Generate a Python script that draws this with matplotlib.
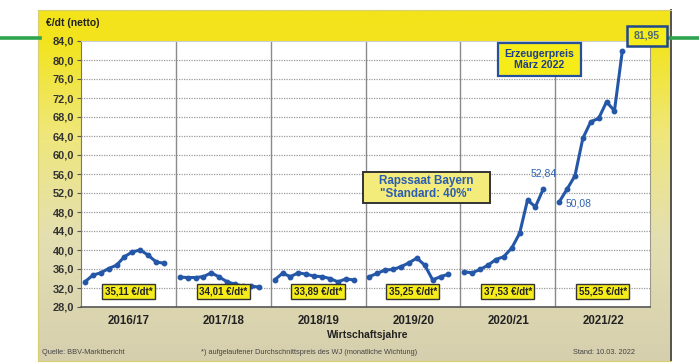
import numpy as np
import matplotlib
matplotlib.use("Agg")
import matplotlib.pyplot as plt
from matplotlib.colors import LinearSegmentedColormap
from matplotlib.patches import Rectangle

plt.rcParams['font.family'] = ['Liberation Sans', 'DejaVu Sans']

# Marketing years and monthly producer prices (EUR/dt, net)
years = ["2016/17", "2017/18", "2018/19", "2019/20", "2020/21", "2021/22"]
p_2016 = [33.3, 34.7, 35.2, 36.1, 36.8, 38.6, 39.6, 40.0, 38.9, 37.5, 37.2]
p_2017 = [34.3, 34.2, 34.2, 34.4, 35.2, 34.3, 33.3, 32.8, 32.4, 32.4, 32.2]
p_2018 = [33.7, 35.1, 34.4, 35.2, 34.9, 34.5, 34.4, 34.0, 33.3, 33.9, 33.7]
p_2019 = [34.4, 35.1, 35.8, 35.9, 36.5, 37.3, 38.3, 36.8, 33.7, 34.4, 34.9]
p_2020 = [35.4, 35.2, 35.9, 36.8, 38.0, 38.6, 40.4, 43.5, 50.5, 49.1, 52.84]
p_2021 = [50.08, 52.8, 55.6, 63.5, 67.0, 67.7, 71.2, 69.3, 81.95]
series = [p_2016, p_2017, p_2018, p_2019, p_2020, p_2021]

# cumulative average price per marketing year
averages = ["35,11", "34,01", "33,89", "35,25", "37,53", "55,25"]

y_ticks = np.arange(28, 85, 4)

W, H = 699, 364
fig = plt.figure(figsize=(W / 100, H / 100), dpi=100)
fig.patch.set_facecolor("white")


def fx(px):
    return px / W


def fy(py):
    return 1 - py / H


def box(x0, y0, x1, y1, fc, ec, lw, z=5):
    """Framed rectangle given in pixel coordinates (top-left origin)."""
    fig.add_artist(Rectangle((fx(x0), fy(y1)), fx(x1) - fx(x0), fy(y0) - fy(y1),
                             transform=fig.transFigure, fc=fc, ec=ec, lw=lw, zorder=z))


# green rule behind the panel
fig.add_artist(plt.Line2D([0, fx(40)], [fy(37.5), fy(37.5)], color="#2ea44f", lw=2.6,
                          transform=fig.transFigure))
fig.add_artist(plt.Line2D([fx(669), 1], [fy(37.5), fy(37.5)], color="#2ea44f", lw=2.6,
                          transform=fig.transFigure))

# yellow-to-beige panel
bg = fig.add_axes([fx(38), fy(361), fx(671) - fx(38), fy(10) - fy(361)])
cmap = LinearSegmentedColormap.from_list(
    "panel", [(0.0, "#f2e31b"), (0.09, "#f2e41e"), (0.35, "#efe77a"),
              (0.65, "#e4dfb2"), (1.0, "#d6cfae")])
grad = np.linspace(0, 1, 256).reshape(-1, 1)
bg.imshow(grad, aspect="auto", cmap=cmap, extent=[0, 1, 0, 1], origin="upper")
bg.set_xlim(0, 1)
bg.set_ylim(0, 1)
bg.set_xticks([])
bg.set_yticks([])
for s in ["top", "left", "bottom"]:
    bg.spines[s].set_color("#d8cf70")
    bg.spines[s].set_linewidth(0.8)
bg.spines["right"].set_color("#55534a")
bg.spines["right"].set_linewidth(1.4)

# plot area
ax = fig.add_axes([fx(81), fy(307), fx(650) - fx(81), fy(41) - fy(307)])
ax.set_facecolor("white")
ax.set_xlim(0, 72)
ax.set_ylim(28, 84)
ax.set_yticks(y_ticks)
ax.set_yticklabels([f"{v:.1f}".replace(".", ",") for v in y_ticks],
                   fontsize=7.9, fontweight="bold", color="#333333")
ax.tick_params(axis="y", length=3, width=0.8, color="#555555", pad=2)
ax.set_xticks([])
for v in y_ticks[1:-1]:
    ax.axhline(v, color="#9a9a9a", lw=0.9, ls=(0, (1.0, 1.0)), zorder=1)
for k in range(1, 6):
    ax.axvline(12 * k, color="#8a8a8a", lw=1.0, zorder=1)
ax.spines["top"].set_color("#cfcfcf")
ax.spines["right"].set_color("#9a9a8a")
ax.spines["left"].set_color("#777777")
ax.spines["bottom"].set_color("#555555")
ax.spines["bottom"].set_linewidth(1.2)

line_color = "#2457a8"
for k, vals in enumerate(series):
    xs = 12 * k + np.arange(len(vals)) + 0.5
    ax.plot(xs, vals, color=line_color, lw=2.2, marker="o", ms=3.2,
            mec=line_color, mfc=line_color, zorder=3, solid_capstyle="round")

# year averages
for k, a in enumerate(averages):
    ax.text(12 * k + 6, 31.2, f"{a} €/dt*", ha="center", va="center",
            fontsize=7.0, fontweight="bold", color="#222222", zorder=4,
            bbox=dict(boxstyle="square,pad=0.25", fc="#f5ec1a", ec="#333333", lw=1.0))

# point labels
ax.text(12 * 4 + 10.5, 55.0, "52,84", ha="center", va="bottom", fontsize=7.5,
        color="#2f62b0", zorder=4)
ax.text(12 * 5 + 1.3, 49.8, "50,08", ha="left", va="center", fontsize=7.5,
        color="#2f62b0", zorder=4)

# annotation boxes
box(498, 43, 581, 76, "#f5ec1a", "#25509a", 1.6)
fig.text(fx(539.5), fy(59.5), "Erzeugerpreis\nMärz 2022", ha="center", va="center",
         fontsize=7.6, fontweight="bold", color="#1f3f86", linespacing=1.1, zorder=6)
box(363, 172, 490, 203, "#f3eb7a", "#333333", 1.4)
fig.text(fx(426.5), fy(187.5), "Rapssaat Bayern\n\"Standard: 40%\"", ha="center",
         va="center", fontsize=8.4, fontweight="bold", color="#2b5db0",
         linespacing=1.05, zorder=6)
box(627, 26, 667, 46, "#f5ec1a", "#20488e", 1.8)
fig.text(fx(647), fy(36), "81,95", ha="center", va="center", fontsize=7.5,
         fontweight="bold", color="#4a6a7a", zorder=6)

# axis titles and labels
fig.text(fx(46), fy(23), "€/dt (netto)", ha="left", va="center", fontsize=7.5,
         fontweight="bold", color="#222222")
for k, yr in enumerate(years):
    fig.text(fx(81 + 95 * k + 47.5), fy(321), yr, ha="center", va="center",
             fontsize=8.3, fontweight="bold", color="#222222")
fig.text(fx(368), fy(335), "Wirtschaftsjahre", ha="center", va="center",
         fontsize=7.5, fontweight="bold", color="#222222")

fig.text(fx(42), fy(353), "Quelle: BBV-Marktbericht", ha="left", va="center",
         fontsize=5.3, color="#444444")
fig.text(fx(309), fy(353), "*) aufgelaufener Durchschnittspreis des WJ (monatliche Wichtung)",
         ha="center", va="center", fontsize=5.3, color="#444444")
fig.text(fx(635), fy(353), "Stand: 10.03. 2022", ha="right", va="center",
         fontsize=5.3, color="#444444")

fig.savefig("out.png", dpi=100)
